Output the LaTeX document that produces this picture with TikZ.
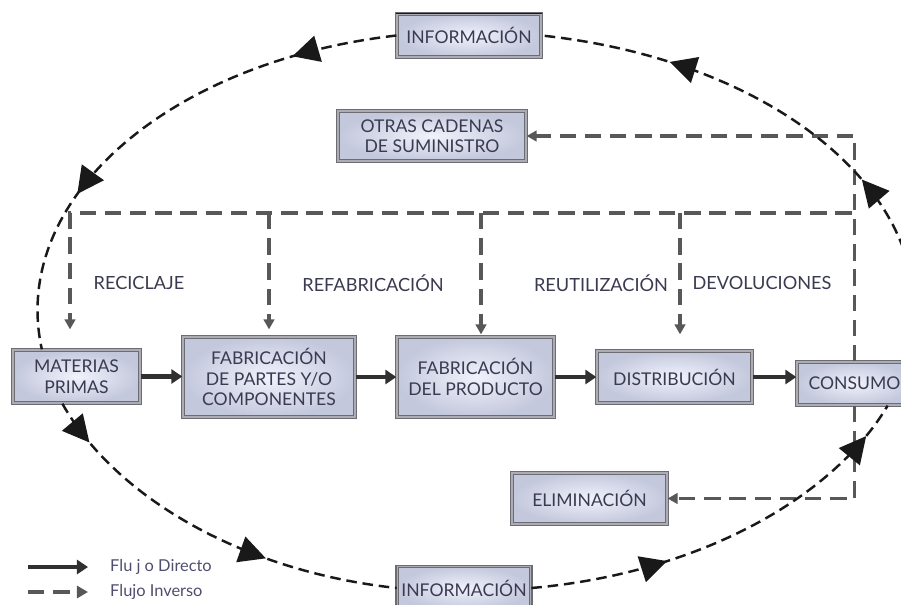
\documentclass[tikz,border=0pt]{standalone}
\usepackage{fontspec}
\setmainfont{Lato}
\usetikzlibrary{arrows.meta,shadows,decorations.markings,calc}

\definecolor{txt}{RGB}{58,58,80}
\definecolor{legtxt}{RGB}{80,78,110}
\definecolor{frame}{RGB}{108,108,114}
\definecolor{framein}{RGB}{172,173,180}
\definecolor{boxin}{RGB}{240,242,252}
\definecolor{boxout}{RGB}{196,200,220}
\definecolor{invgray}{RGB}{88,88,88}
\definecolor{infoblack}{RGB}{25,25,25}
\definecolor{dirgray}{RGB}{48,48,48}

\tikzset{
  box/.style={draw=frame, line width=1.1pt, double=framein, double distance=1.1pt,
    inner color=boxin, outer color=boxout, align=center, text=txt,
    font=\fontsize{15}{17.5}\selectfont, inner sep=0pt,
    drop shadow={opacity=0.35, shadow xshift=1.5pt, shadow yshift=-1.5pt}},
  lbl/.style={text=txt, font=\fontsize{15.5}{17}\selectfont, inner sep=0pt},
  legend/.style={text=legtxt, font=\fontsize{14}{16}\selectfont, inner sep=0pt, anchor=west},
  direct/.style={draw=dirgray, line width=3.8pt, -{Triangle[length=0.33cm,width=0.42cm]}},
  inv/.style={draw=invgray, line width=2.7pt, dash pattern=on 14pt off 7.5pt},
  invtip/.style={-{Triangle[length=0.3cm,width=0.32cm]}},
  info/.style={draw=infoblack, line width=2.1pt, dash pattern=on 9pt off 5pt},
  bigtip/.tip={Triangle[length=0.8cm,width=0.8cm]},
  flowmarks/.style 2 args={postaction={decorate}, decoration={markings,
     mark=at position #1 with {\arrow{bigtip}},
     mark=at position #2 with {\arrow{bigtip}}}},
}

\begin{document}
\begin{tikzpicture}[x=0.03cm, y=-0.03cm]
\useasboundingbox (0,0) rectangle (901,604);

% supply chain stages
\node[box, minimum width=3.81cm, minimum height=1.59cm] (mp) at (76.5,376.5) {MATERIAS\\PRIMAS};
\node[box, minimum width=5.16cm, minimum height=2.4cm] (fp) at (269,377) {FABRICACIÓN\\DE PARTES Y/O\\COMPONENTES};
\node[box, minimum width=4.71cm, minimum height=2.4cm] (fd) at (475.5,377) {FABRICACIÓN\\DEL PRODUCTO};
\node[box, minimum width=4.65cm, minimum height=1.56cm] (di) at (674.5,377) {DISTRIBUCIÓN};
\node[box, minimum width=3.45cm, minimum height=1.29cm] (co) at (854.5,383.5) {CONSUMO};

% information and reverse-flow destinations
\node[box, minimum width=4.32cm, minimum height=1.29cm] (it) at (469,35.5) {INFORMACIÓN};
\draw[line width=1pt, infoblack] (it.north west) -- (it.north east);
\node[box, minimum width=5.64cm, minimum height=1.5cm] (oc) at (432,136) {OTRAS CADENAS\\DE SUMINISTRO};
\node[box, minimum width=4.65cm, minimum height=1.53cm] (el) at (589.5,498.5) {ELIMINACIÓN};
\node[box, minimum width=4.0cm, minimum height=1.29cm] (ib) at (464,588) {INFORMACIÓN};

% direct flow
\draw[direct] (mp.east) -- (mp.east -| fp.west);
\draw[direct] (fp.east) -- (fp.east -| fd.west);
\draw[direct] (fd.east) -- (fd.east -| di.west);
\draw[direct] (di.east) -- (di.east -| co.west);

% reverse flow
\coordinate (cl) at (70,213);
\coordinate (fdin) at ([xshift=0.165cm]fd.north);
\coordinate (diin) at ([xshift=0.165cm]di.north);
\draw[inv, invtip] (co.north) |- (oc.east);
\draw[inv, invtip, shorten >=0.6cm] (co.north) |- (cl) -- (cl |- mp.north);
\draw[inv, invtip, shorten >=0.21cm] (cl -| fp.north) -- (fp.north);
\draw[inv, invtip, shorten >=0.06cm] (cl -| fdin) -- (fdin);
\draw[inv, invtip, shorten >=0.48cm] (cl -| diin) -- (diin);
\draw[inv, invtip] (co.south) |- (el.east);

\node[lbl] (rc) at (139,283) {RECICLAJE};
\node[lbl] (rf) at (373,283) {REFABRICACIÓN};
\node[lbl] (ru) at (601,283) {REUTILIZACIÓN};
\node[lbl] (dv) at (762,283) {DEVOLUCIONES};

% information loop
\draw[info, flowmarks={0.2}{0.69}] (it.west) .. controls (166,62) and (9,201) .. ([xshift=0.885cm]mp.north west);
\draw[info, flowmarks={0.12}{0.66}] ([xshift=1.5cm]mp.south west) .. controls (115.5,497.7) and (243,571.4) .. (ib.west);
\draw[info, flowmarks={0.335}{0.91}] (ib.east) .. controls (693.8,573.9) and (830.5,501.3) .. ([xshift=-0.75cm]co.south east);
\draw[info, flowmarks={0.353}{0.764}] ([xshift=-0.18cm]co.north east) .. controls (952.9,208.9) and (788.1,61.9) .. (it.east);

% legend
\node[legend] (ld) at (110,567) {Flu j o Directo};
\node[legend] (li) at (110,592) {Flujo Inverso};
\coordinate (ld0) at (28,567);
\coordinate (li0) at (28,592);
\draw[direct] (ld0) -- ([xshift=-0.66cm]ld.west);
\draw[inv, -{Triangle[length=0.33cm,width=0.36cm]}] (li0) -- ([xshift=-0.66cm]li.west);
\end{tikzpicture}
\end{document}
